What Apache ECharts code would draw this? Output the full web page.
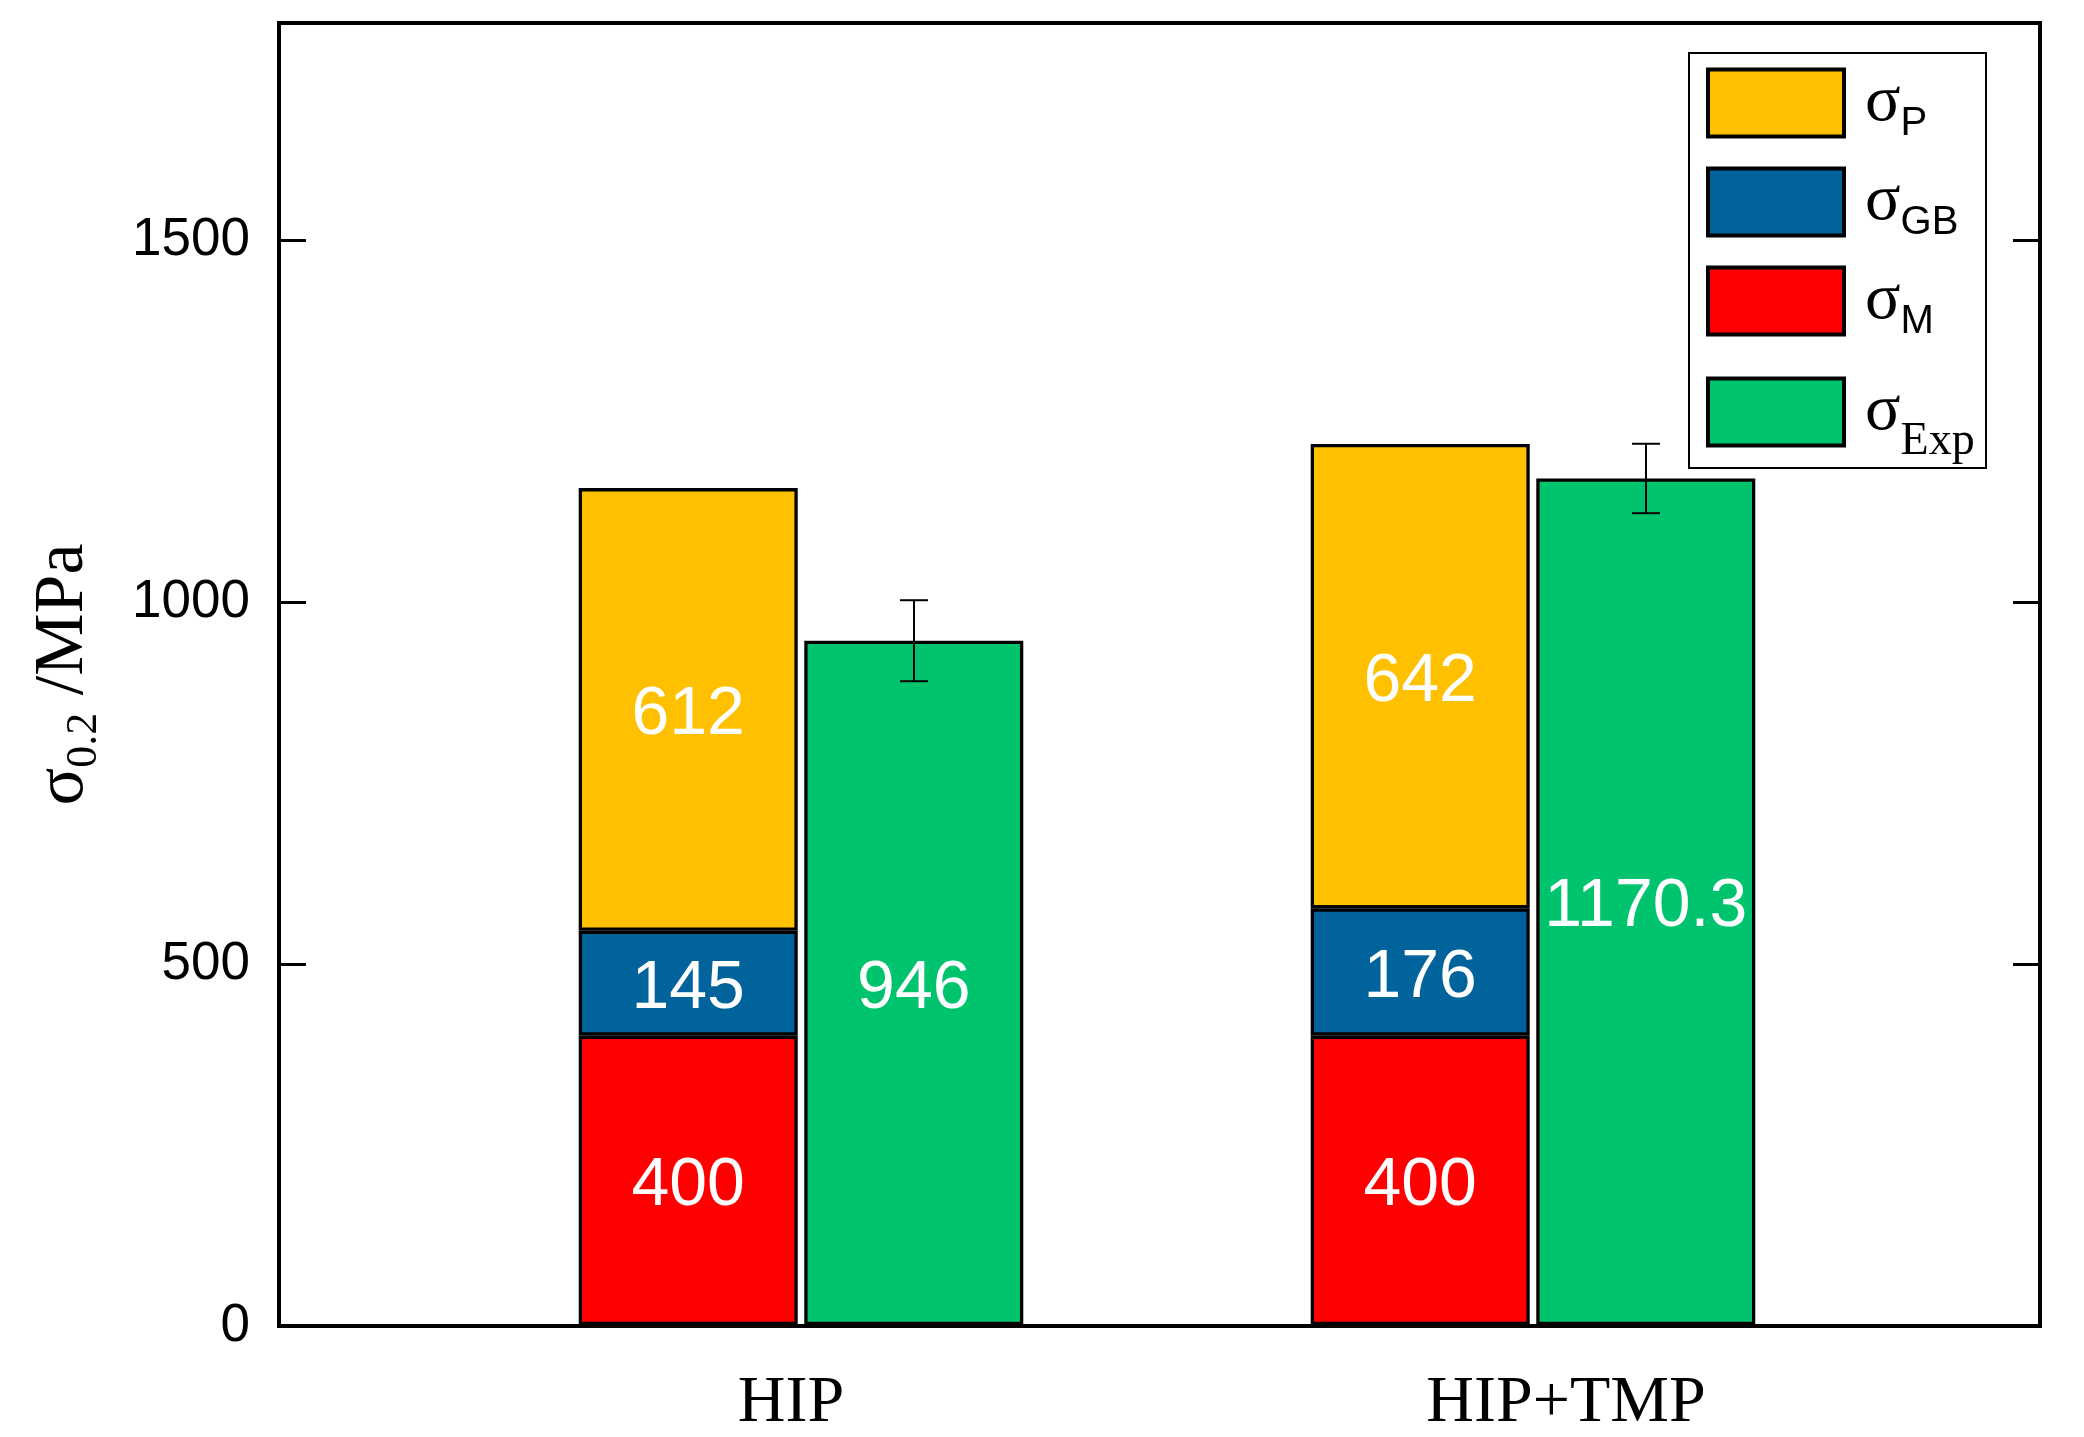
<!DOCTYPE html>
<html><head><meta charset="utf-8">
<script src="https://cdn.jsdelivr.net/npm/echarts@6/dist/echarts.min.js"></script>
<style>html,body{margin:0;padding:0;background:#fff}#c{width:2084px;height:1437px}</style>
</head><body><div id="c"></div>
<script>
const categories = ['HIP', 'HIP+TMP'];
const sigmaM = [400, 400];
const sigmaGB = [145, 176];
const sigmaP = [612, 642];
const sigmaExp = [946, 1170.3];
const sigmaExpErr = [56, 48];
const yMin = 0, yMax = 1800, yInterval = 500;

const BAR_W = 219, BAR_GAP = '3%';
const EXP_OFFSET = 113;
const COLORS = {P:'#FFC000', GB:'#00639C', M:'#FF0000', Exp:'#00C36D'};

const chart = echarts.init(document.getElementById('c'));
const valueLabel = {show:true, position:'inside', offset:[0,6], color:'#fff', fontFamily:'Liberation Sans', fontSize:68};
const barStyle = c => ({color:c, borderColor:'#000', borderWidth:3.3});

const legendRich = {
  s:{fontFamily:'Liberation Serif', fontSize:66, color:'#000', lineHeight:60, padding:[0,0,0,16]},
  sub:{fontFamily:'Liberation Sans', fontSize:40, color:'#000', lineHeight:20, padding:[42,0,0,0]},
  subS:{fontFamily:'Liberation Serif', fontSize:46, color:'#000', lineHeight:44, padding:[60,0,0,0]}
};
const legendFmt = {'σP':'{s|σ}{sub|P}', 'σGB':'{s|σ}{sub|GB}', 'σM':'{s|σ}{sub|M}', 'σExp':'{s|σ}{subS|Exp}'};

chart.setOption({
  animation:false,
  backgroundColor:'#fff',
  grid:[
    {left:279, right:44, top:23, bottom:111, show:true, borderColor:'#000', borderWidth:4},
    {left:435, right:185, top:23, bottom:111}
  ],
  legend:{
    data:['σP','σGB','σM','σExp'],
    orient:'vertical', left:1706, top:62, padding:0,
    icon:'rect',
    itemWidth:136, itemHeight:67, itemGap:17,
    selectedMode:false,
    itemStyle:{borderColor:'#000', borderWidth:4},
    formatter:n => legendFmt[n],
    textStyle:{rich:legendRich}
  },
  graphic:[{type:'rect', shape:{x:1689, y:53, width:297, height:415}, style:{fill:'none', stroke:'#000', lineWidth:2}, z:100}],
  xAxis:[
    {gridIndex:0, type:'value', min:0, max:1, show:false},
    {gridIndex:1, type:'category', data:categories,
     axisLine:{show:false}, axisTick:{show:false},
     axisLabel:{margin:46, color:'#000', fontFamily:'Liberation Serif', fontSize:66,
       formatter:v => v === 'HIP' ? '{a|' + v + '}' : '{b|' + v + '}',
       rich:{a:{fontFamily:'Liberation Serif', fontSize:66, color:'#000', padding:[0,20,0,0]},
             b:{fontFamily:'Liberation Serif', fontSize:66, color:'#000', padding:[0,0,0,66]}}}}
  ],
  yAxis:[
    {gridIndex:0, type:'value', min:yMin, max:yMax, interval:yInterval, position:'left',
     axisLine:{show:true, lineStyle:{color:'#000', width:4}},
     axisTick:{show:true, inside:true, length:27, lineStyle:{color:'#000', width:3}},
     axisLabel:{margin:29, color:'#000', fontFamily:'Liberation Sans', fontSize:53, showMaxLabel:false,
       formatter:v => (v % yInterval === 0 ? String(v) : '')},
     splitLine:{show:false},
     name:'{s|σ}{sub|0.2}{t| /MPa}', nameLocation:'middle', nameRotate:90, nameGap:180,
     nameTextStyle:{rich:{
       s:{fontFamily:'Liberation Serif', fontSize:70, color:'#000', lineHeight:70},
       sub:{fontFamily:'Liberation Serif', fontSize:44, color:'#000', lineHeight:30, padding:[40,0,0,0]},
       t:{fontFamily:'Liberation Serif', fontSize:70, color:'#000', lineHeight:70}}}},
    {gridIndex:0, type:'value', min:yMin, max:yMax, interval:yInterval, position:'right',
     axisLine:{show:true, lineStyle:{color:'#000', width:4}},
     axisTick:{show:true, inside:true, length:27, lineStyle:{color:'#000', width:3}},
     axisLabel:{show:false}, splitLine:{show:false}},
    {gridIndex:1, type:'value', min:yMin, max:yMax, show:false}
  ],
  series:[
    {name:'σM', type:'bar', stack:'calc', xAxisIndex:1, yAxisIndex:2, data:sigmaM,
     barWidth:BAR_W, barGap:BAR_GAP, itemStyle:barStyle(COLORS.M), label:valueLabel},
    {name:'σGB', type:'bar', stack:'calc', xAxisIndex:1, yAxisIndex:2, data:sigmaGB,
     barWidth:BAR_W, barGap:BAR_GAP, itemStyle:barStyle(COLORS.GB), label:valueLabel},
    {name:'σP', type:'bar', stack:'calc', xAxisIndex:1, yAxisIndex:2, data:sigmaP,
     barWidth:BAR_W, barGap:BAR_GAP, itemStyle:barStyle(COLORS.P), label:valueLabel},
    {name:'σExp', type:'bar', xAxisIndex:1, yAxisIndex:2, data:sigmaExp,
     barWidth:BAR_W, barGap:BAR_GAP, itemStyle:barStyle(COLORS.Exp), label:valueLabel},
    {name:'err', type:'custom', xAxisIndex:1, yAxisIndex:2, z:10,
     data:categories.map((c, i) => [i, sigmaExp[i] - sigmaExpErr[i], sigmaExp[i] + sigmaExpErr[i]]),
     renderItem:(params, api) => {
       const lo = api.coord([api.value(0), api.value(1)]);
       const hi = api.coord([api.value(0), api.value(2)]);
       const x = lo[0] + EXP_OFFSET, cap = 14;
       const st = {stroke:'#000', lineWidth:2};
       return {type:'group', children:[
         {type:'line', shape:{x1:x, y1:lo[1], x2:x, y2:hi[1]}, style:st},
         {type:'line', shape:{x1:x-cap, y1:lo[1], x2:x+cap, y2:lo[1]}, style:st},
         {type:'line', shape:{x1:x-cap, y1:hi[1], x2:x+cap, y2:hi[1]}, style:st}
       ]};
     }}
  ]
});
</script></body></html>
